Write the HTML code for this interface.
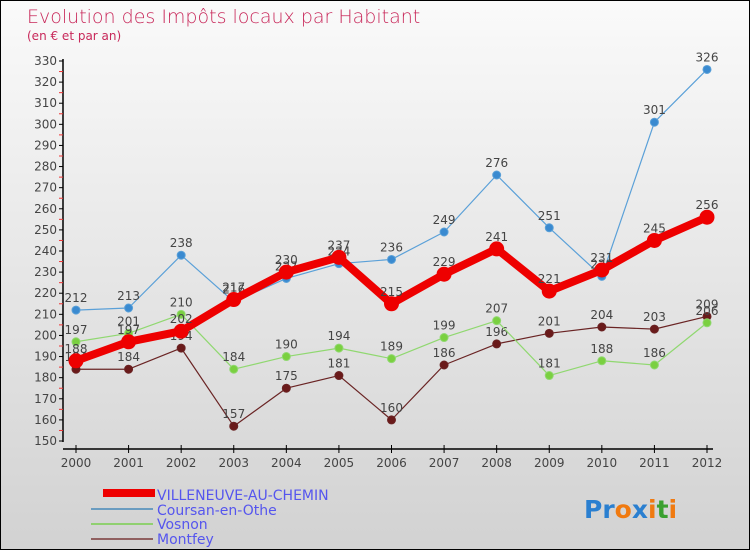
<!DOCTYPE html>
<html><head><meta charset="utf-8"><style>
body{margin:0}
#c{width:750px;height:550px;position:relative;overflow:hidden;box-sizing:border-box;border:1px solid #000;background:linear-gradient(#fafafa,#d2d2d2);font-family:"DejaVu Sans","Liberation Sans",sans-serif}
</style></head><body>
<div id="c">
<svg id="s" width="750" height="550" style="position:absolute;left:0;top:0">
<text x="26" y="22" font-size="19" fill="#c8285a" font-weight="300">Evolution des Impôts locaux par Habitant</text>
<text x="26" y="39" font-size="12" fill="#c8285a">(en € et par an)</text>
<g id="g"></g>
<g>
<rect x="102" y="488" width="52" height="8" fill="#e00"/>
<text x="156" y="499" font-size="14" fill="#5555ee">VILLENEUVE-AU-CHEMIN</text>
<rect x="90" y="507" width="62" height="2" fill="#6a9cc0"/>
<text x="156" y="514" font-size="14" fill="#5555ee">Coursan-en-Othe</text>
<rect x="90" y="522" width="62" height="2" fill="#90d070"/>
<text x="156" y="528" font-size="14" fill="#5555ee">Vosnon</text>
<rect x="90" y="537" width="62" height="2" fill="#906060"/>
<text x="156" y="543" font-size="14" fill="#5555ee">Montfey</text>
</g>
<text x="583" y="517" font-size="25" font-weight="bold"><tspan fill="#2a7fd0">Pr</tspan><tspan fill="#f07a10">o</tspan><tspan fill="#2a7fd0">x</tspan><tspan fill="#f07a10">i</tspan><tspan fill="#3aa030">t</tspan><tspan fill="#f07a10">i</tspan></text>
</svg>
</div>
<script>
const years=[2000,2001,2002,2003,2004,2005,2006,2007,2008,2009,2010,2011,2012];
const villeneuve=[188,197,202,217,230,237,215,229,241,221,231,245,256];
const coursan=[212,213,238,216,227,234,236,249,276,251,228,301,326];
const vosnon=[197,201,210,184,190,194,189,199,207,181,188,186,206];
const montfey=[184,184,194,157,175,181,160,186,196,201,204,203,209];
const yTicks=[150,160,170,180,190,200,210,220,230,240,250,260,270,280,290,300,310,320,330];
const NS='http://www.w3.org/2000/svg';
const g=document.getElementById('g');
const x=i=>75+i*(706-75)/(years.length-1);
const y=v=>440-(v-150)*(380/180);
function el(t,a,p){const e=document.createElementNS(NS,t);for(const k in a)e.setAttribute(k,a[k]);(p||g).appendChild(e);return e;}
let ax=el('line',{x1:62,y1:58,x2:62,y2:441,stroke:'#000','stroke-width':1.5});


let ax2=el('line',{x1:62,y1:448,x2:712,y2:448,stroke:'#000','stroke-width':1.5});


yTicks.forEach(v=>{
 el('line',{x1:58,y1:y(v),x2:62,y2:y(v),stroke:'#000'});
 if(v<330)el('line',{x1:58,y1:y(v+5),x2:62,y2:y(v+5),stroke:'#e33'});
 const t=el('text',{x:56,y:y(v)+4,'font-size':12,fill:'#444','text-anchor':'end'});
 t.textContent=v;
 
 
});
years.forEach((yr,i)=>{
 el('line',{x1:x(i),y1:444,x2:x(i),y2:452,stroke:'#000'});
 const t=el('text',{x:x(i),y:466,'font-size':12,fill:'#444','text-anchor':'middle'});
 t.textContent=yr;
 
 
});
function series(data,color,w,r,name,dot){
 const grp=el('g',{});
 
 
 const pl=el('polyline',{points:data.map((v,i)=>x(i)+','+y(v)).join(' '),fill:'none',stroke:color,'stroke-width':w,'stroke-linejoin':'round'},grp);
 
 
 data.forEach((v,i)=>{
  const c=el('circle',{cx:x(i),cy:y(v),r:r,fill:dot,stroke:color,'stroke-width':1},grp);
  
  
  const t=el('text',{x:x(i),y:y(v)-8,'font-size':12,fill:'#444','text-anchor':'middle'},grp);
  t.textContent=v;
  
  
 });
}
series(montfey,'#6a2424',1.2,4,'montfey','#6a1a1a');
series(vosnon,'#90d870',1.2,4,'vosnon','#7ad040');
series(coursan,'#5aa0d8',1.2,4,'coursan','#3a8ad0');
series(villeneuve,'#ee0000',8,7,'villeneuve','#ee0000');
</script>
</body></html>
